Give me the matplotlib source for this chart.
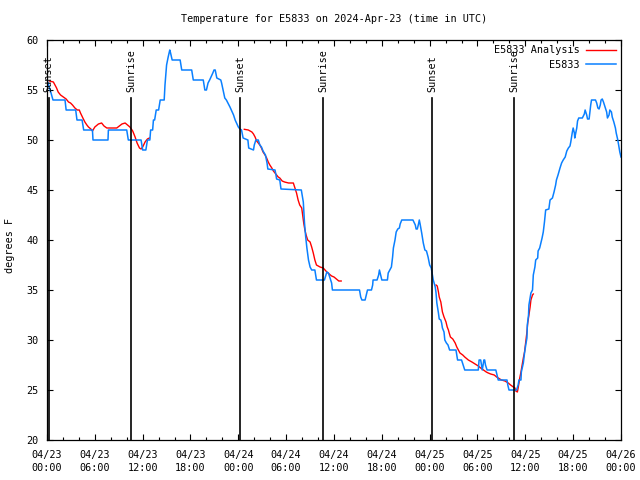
import matplotlib
matplotlib.use("Agg")
import matplotlib.pyplot as plt
import matplotlib.dates as mdates
import pandas as pd
import numpy as np

title = "Temperature for E5833 on 2024-Apr-23 (time in UTC)"
start = pd.Timestamp("2024-04-23 00:00")
end = pd.Timestamp("2024-04-26 00:00")

# E5833 observations (hours after start, deg F)
obs_hours = [0.0, 0.4, 0.75, 2.26, 2.4, 3.6, 3.76, 4.4, 4.6, 5.7, 5.77, 7.65, 7.7, 10.0, 10.2, 11.8, 12.0, 12.4,
             12.6, 12.9, 13.0, 13.25, 13.35, 13.5, 13.7, 14.0, 14.2, 14.7, 14.8, 15.0, 15.2, 15.4, 15.5, 15.7, 16.7,
             16.9, 18.15, 18.35, 19.6, 19.8, 20.0, 20.2, 20.4, 20.8, 20.95, 21.1, 21.3, 21.8, 21.9, 22.3, 22.5, 22.95,
             23.4, 23.6, 24.0, 24.2, 24.4, 24.6, 25.2, 25.3, 25.9, 26.0, 26.2, 26.5, 26.7, 26.9, 27.1, 27.4, 27.6,
             27.7, 28.6, 28.7, 28.8, 29.2, 29.35, 31.9, 32.15, 32.3, 32.45, 32.6, 32.8, 33.0, 33.2, 33.6, 33.8, 34.8,
             35.1, 35.3, 35.5, 35.7, 35.8, 39.2, 39.35, 39.5, 39.9, 40.1, 40.2, 40.7, 40.85, 40.9, 41.4, 41.6, 41.7,
             41.85, 42.0, 42.7, 42.8, 43.0, 43.2, 43.35, 43.45, 43.65, 43.8, 44.0, 44.2, 44.3, 44.5, 45.9, 46.2, 46.3,
             46.45, 46.6, 46.7, 46.8, 47.0, 47.2, 47.4, 47.6, 47.8, 48.0, 48.2, 48.3, 48.45, 48.7, 48.8, 48.9, 49.1,
             49.2, 49.4, 49.5, 49.6, 49.8, 49.9, 50.1, 50.3, 50.5, 51.3, 51.5, 52.0, 52.2, 52.4, 54.1, 54.2, 54.4,
             54.6, 54.8, 54.9, 55.0, 55.2, 56.3, 56.5, 56.6, 57.7, 57.8, 57.95, 58.9, 59.1, 59.2, 59.45, 59.5, 59.75,
             59.9, 60.05, 60.2, 60.25, 60.4, 60.45, 60.6, 60.7, 60.9, 61.0, 61.2, 61.3, 61.55, 61.6, 61.8, 61.95,
             62.1, 62.25, 62.4, 62.55, 62.95, 63.1, 63.4, 63.6, 63.8, 63.9, 64.1, 64.35, 64.55, 64.75, 65.0, 65.2,
             65.4, 65.6, 65.7, 65.9, 66.0, 66.15, 66.2, 66.35, 66.45, 66.55, 66.7, 67.15, 67.4, 67.5, 67.7, 67.8,
             68.0, 68.1, 68.2, 68.3, 68.8, 68.95, 69.1, 69.25, 69.4, 69.5, 69.65, 69.8, 70.0, 70.2, 70.3, 70.5,
             70.6, 70.8, 70.9, 71.1, 71.3, 71.4, 71.6, 71.7, 71.85, 72.0]
obs_temps = [56, 55, 54, 54, 53, 53, 52, 52, 51, 51, 50, 50, 51, 51, 50, 50, 49, 49,
             50, 50, 51, 51, 52, 52, 53, 53, 54, 54, 55.5, 57.5, 58.3, 59, 58.7, 58, 58,
             57, 57, 56, 56, 55, 55, 55.7, 56, 56.7, 57, 57, 56.2, 56, 55.7, 54.2, 54, 53.3,
             52.5, 52, 51.3, 51.1, 51, 50.2, 50, 49.2, 49, 49.5, 50, 50, 49.5, 49.3, 48.9, 48.5, 47.7,
             47.1, 47, 46.6, 46.1, 46, 45.1, 45, 43.8, 41.7, 40.3, 39.2, 38, 37.3, 37, 37, 36, 36,
             36.8, 36.7, 36.2, 35.7, 35, 35, 34.3, 34, 34, 34.7, 35, 35, 35.5, 36, 36, 36.5, 37,
             36.5, 36, 36, 36.7, 37, 37.3, 38.3, 39.2, 40, 40.8, 41.1, 41.2, 41.6, 42, 42, 41.5, 41.1,
             41.1, 41.6, 42, 41.6, 40.7, 39.7, 39, 38.9, 38.3, 37.5, 37.2, 36.7, 36, 35.3, 34.7, 33.7, 32.7,
             32.1, 32, 31.7, 31.2, 30.8, 30, 29.7, 29.5, 29, 29, 28, 28, 27.5, 27, 27, 28, 28,
             27, 28, 28, 27.5, 27, 27, 26.3, 26, 26, 25.5, 25, 25, 25.5, 26, 26, 26.8, 27.7,
             28.7, 29.5, 30.2, 31.5, 32.5, 33.5, 34.2, 34.7, 35, 36.5, 37.3, 38, 38.2, 38.9, 39.2, 39.7,
             40.2, 40.8, 41.8, 43, 43.1, 44, 44.2, 44.8, 45.5, 46, 46.5, 47.2, 47.7, 48, 48.3, 48.9,
             49.2, 49.4, 49.8, 50.8, 51.2, 50.7, 50.2, 50.8, 51.2, 51.9, 52.2, 52.2, 52.6, 53, 52.5, 52.1,
             52.1, 52.8, 53.5, 54, 54, 53.7, 53.2, 53.1, 53.5, 54, 54.1, 53.8, 53.3, 52.8, 52.2, 52.5,
             53, 52.8, 52.3, 51.8, 51.2, 50.7, 50, 49.5, 48.8, 48.3]

# E5833 Analysis, three separate runs
ana1_hours = [0.29, 0.8, 1.0, 1.2, 1.4, 1.7, 2.05, 2.4, 2.7, 2.95, 3.2, 3.5, 3.8, 4.05, 4.2, 4.5, 4.75, 5.0, 5.2,
              5.5, 5.7, 6.0, 6.45, 6.85, 7.15, 7.5, 8.75, 9.4, 9.8, 10.1, 10.4, 10.75, 11.05, 11.3, 11.6, 11.8,
              12.0, 12.3, 12.6, 12.85]
ana1_temps = [55.9, 55.8, 55.5, 55.2, 54.8, 54.5, 54.3, 54.1, 53.8, 53.7, 53.5, 53.2, 53.0, 53.0, 52.7, 52.2, 51.8,
              51.5, 51.3, 51.1, 50.9, 51.3, 51.6, 51.7, 51.4, 51.2, 51.2, 51.6, 51.7, 51.5, 51.3, 50.9, 50.3, 49.7,
              49.2, 49.1, 49.3, 49.8, 50.1, 50.2]
ana2_hours = [24.75, 25.25, 25.7, 25.9, 26.1, 26.3, 26.5, 26.7, 26.9, 27.1, 27.35, 27.55, 27.75, 27.95, 28.2, 28.4,
              28.6, 28.8, 29.0, 29.2, 29.5, 29.8, 30.3, 30.9, 31.1, 31.3, 31.5, 31.7, 31.95, 32.1, 32.2, 32.35,
              32.5, 32.7, 33.0, 33.2, 33.4, 33.6, 33.8, 34.25, 34.65, 35.1, 35.4, 35.7, 36.0, 36.3, 36.6, 36.9]
ana2_temps = [51.07, 51.0, 50.8, 50.6, 50.3, 49.9, 49.7, 49.5, 49.2, 48.8, 48.5, 48.2, 47.8, 47.5, 47.2, 46.9,
              46.7, 46.5, 46.3, 46.2, 45.9, 45.8, 45.7, 45.7, 45.2, 44.7, 44.0, 43.5, 43.2, 42.3, 41.7, 41.0,
              40.5, 40.0, 39.8, 39.3, 38.7, 38.0, 37.5, 37.3, 37.2, 36.8, 36.6, 36.4, 36.3, 36.1, 35.9, 35.9]
ana3_hours = [48.8, 48.95, 49.1, 49.2, 49.4, 49.5, 49.6, 49.8, 49.9, 50.05, 50.2, 50.35, 50.45, 50.6, 50.9, 51.05,
              51.2, 51.4, 51.6, 51.8, 52.15, 52.4, 52.85, 53.3, 53.7, 54.1, 54.4, 54.75, 55.1, 55.35, 55.65, 56.1,
              56.4, 56.6, 57.0, 57.45, 57.85, 58.15, 58.5, 58.7, 58.8, 59.0, 59.1, 59.2, 59.3, 59.45, 59.6, 59.75,
              59.9, 60.05, 60.2, 60.3, 60.45, 60.6, 60.7, 60.9, 61.0]
ana3_temps = [35.5, 35.4, 34.8, 34.3, 33.8, 33.3, 32.8, 32.3, 32.1, 31.8, 31.3, 31.0, 30.7, 30.3, 30.1, 29.9,
              29.7, 29.3, 29.0, 28.7, 28.5, 28.3, 28.0, 27.8, 27.6, 27.4, 27.2, 27.0, 26.8, 26.7, 26.6, 26.5,
              26.3, 26.2, 26.0, 25.9, 25.7, 25.5, 25.3, 25.2, 24.9, 24.8, 25.2, 25.7, 26.2, 26.8, 27.5, 28.2,
              28.8, 29.8, 30.8, 31.7, 32.5, 33.3, 34.0, 34.5, 34.6]

sun_labels = ["Sunset", "Sunrise", "Sunset", "Sunrise", "Sunset", "Sunrise"]
sun_hours = [0.19, 10.58, 24.25, 34.64, 48.34, 58.63]

y_min, y_max = 20, 60
y_ticks = [20, 25, 30, 35, 40, 45, 50, 55, 60]

RED = "#ff0000"
BLUE = "#0a80ff"
FONT = "DejaVu Sans Mono"
FS = 7.3

def to_time(hours):
    return [start + pd.Timedelta(hours=h) for h in hours]

fig = plt.figure(figsize=(6.4, 4.8), dpi=100)
ax = fig.add_axes([47 / 640, 40 / 480, 574 / 640, 400 / 480])

first = True
for hh, tt in [(ana1_hours, ana1_temps), (ana2_hours, ana2_temps), (ana3_hours, ana3_temps)]:
    ax.plot(to_time(hh), tt, color=RED, lw=1.0, label="E5833 Analysis" if first else None)
    first = False
ax.plot(to_time(obs_hours), obs_temps, color=BLUE, lw=1.1, label="E5833")

for lab, h in zip(sun_labels, sun_hours):
    t = start + pd.Timedelta(hours=h)
    ax.plot([t, t], [y_min, 54.15], color="black", lw=1.2)
    ax.text(t, 54.75, lab, rotation=90, ha="center", va="bottom", fontsize=FS, family=FONT)

ax.set_xlim(start, end)
ax.set_ylim(y_min, y_max)
ax.set_yticks(y_ticks)
ax.xaxis.set_major_locator(mdates.HourLocator(byhour=[0, 6, 12, 18]))
ax.xaxis.set_minor_locator(mdates.HourLocator(byhour=range(0, 24, 2)))
ax.xaxis.set_major_formatter(mdates.DateFormatter("%m/%d\n%H:%M"))
ax.tick_params(axis="both", which="major", direction="in", length=4, width=0.8,
               top=True, right=True, labelsize=FS, pad=7)
ax.tick_params(axis="x", which="minor", direction="in", length=2, width=0.8, top=True)
ax.tick_params(axis="y", which="major", pad=6)
for lbl in ax.get_xticklabels():
    lbl.set_family(FONT)
    lbl.set_linespacing(1.45)
for lbl in ax.get_yticklabels():
    lbl.set_family(FONT)
for s in ax.spines.values():
    s.set_linewidth(0.9)

leg = ax.legend(loc="upper right", frameon=False, prop={"family": FONT, "size": FS},
                markerfirst=False, handlelength=3.0, borderaxespad=0.3, labelspacing=0.45,
                handletextpad=0.6, borderpad=0.2)
for t in leg.get_texts():
    t.set_ha("right")

fig.text(334 / 640, 1 - 19 / 480, title, ha="center", va="center", fontsize=FS, family=FONT)
fig.text(10 / 640, 1 - 245 / 480, "degrees F", rotation=90, ha="center", va="center", fontsize=FS, family=FONT)

fig.savefig("out.png", dpi=100)
